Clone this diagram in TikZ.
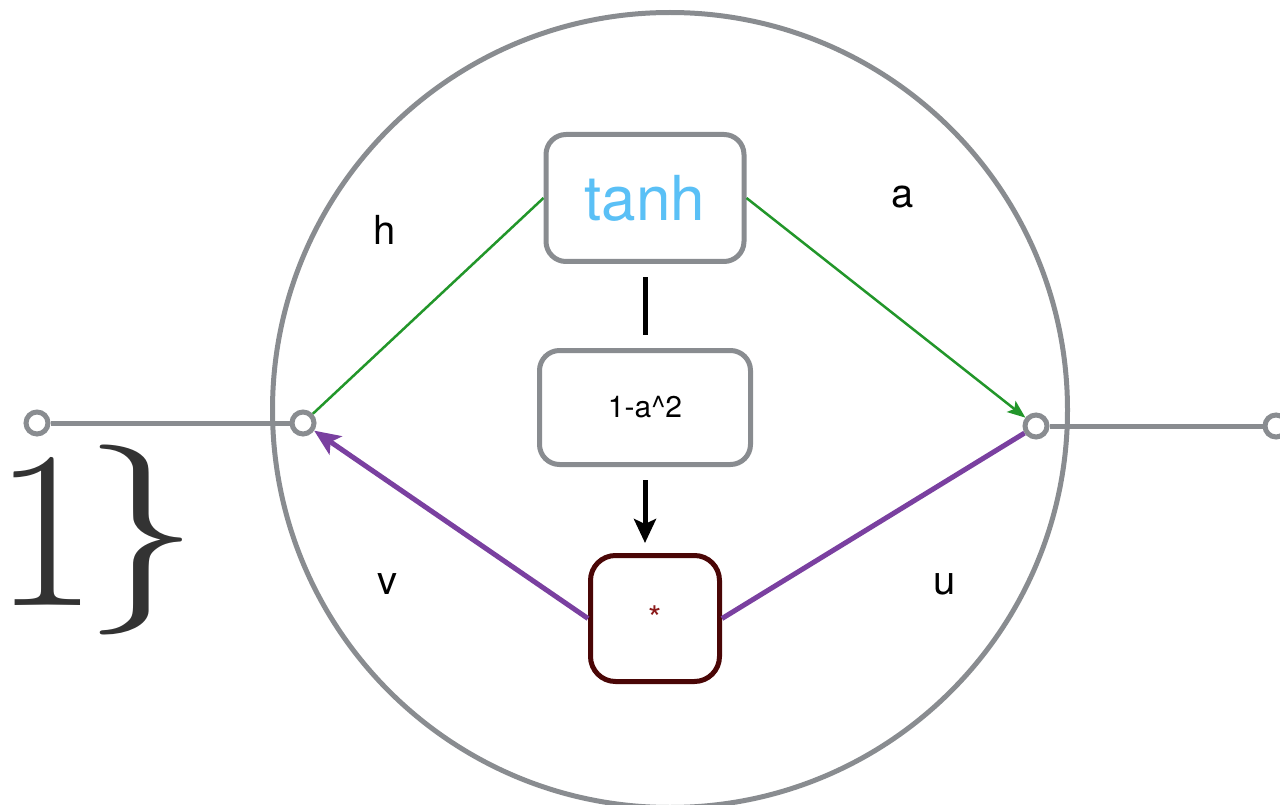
\documentclass[tikz,border=0pt]{standalone}
\usepackage{fontspec}
\newfontfamily\hel{TeX Gyre Heros}
\usetikzlibrary{arrows.meta}
\definecolor{cgray}{HTML}{898C90}
\definecolor{cgreen}{HTML}{22962A}
\definecolor{cpurple}{HTML}{7A40A0}
\definecolor{cmaroon}{HTML}{4A0606}
\definecolor{cstar}{HTML}{8B1A1A}
\definecolor{cblue}{HTML}{5AC0F6}
\definecolor{cdark}{HTML}{333333}
\tikzset{
  term/.style={circle,draw=cgray,line width=5pt,fill=white,minimum size=22pt,inner sep=0pt},
  wire/.style={draw=cgray,line width=5pt},
  opbox/.style={draw=cgray,line width=5pt,rounded corners=20pt,fill=white,inner sep=0pt},
  lbl/.style={font=\hel\fontsize{40}{40}\selectfont,text=black},
  gline/.style={draw=cgreen,line width=2.5pt},
  pline/.style={draw=cpurple,line width=5pt},
  kline/.style={draw=black,line width=5pt}
}
\begin{document}
\begin{tikzpicture}[x=1pt,y=-1pt]
\useasboundingbox (0,0) rectangle (1280,805);
% big cell circle
\node[circle,draw=cgray,line width=5pt,minimum size=795pt,inner sep=0pt] (cell) at (670,410) {};
% terminals
\node[term] (lt1) at (37,423) {};
\node[term] (lt2) at (303,423) {};
\node[term] (rt1) at (1036,426) {};
\node[term] (rt2) at (1276,426) {};
\draw[wire] (lt1) -- (lt2);
\draw[wire] (rt1) -- (rt2);
% big text
\node[anchor=base west,inner sep=0pt,text=cdark] (brace) at (-6,605) {\fontsize{224}{224}\selectfont 1\kern-14pt{\fontsize{190}{190}\selectfont\raisebox{18pt}{\scalebox{1.22}[1]{\}}}}};
% boxes
\node[opbox,minimum width=198pt,minimum height=127pt,text=cblue,font=\hel\fontsize{62}{62}\selectfont] (tanh) at (645,198) {tanh};
\node[opbox,minimum width=211pt,minimum height=114pt,font=\hel\fontsize{30}{30}\selectfont] (onema) at (645,407.5) {1-a\^{}2};
\node[opbox,draw=cmaroon,rounded corners=25pt,minimum width=129pt,minimum height=126pt,text=cstar,font=\hel\fontsize{34}{34}\selectfont] (star) at (655,618.5) {\raisebox{-8pt}{*}};
% labels
\node[lbl] (lh) at (385,230) {h};
\node[lbl] (la) at (903,197) {a};
\node[lbl] (lv) at (387,584) {v};
\node[lbl] (lu) at (945,584) {u};
% connectors
\draw[kline,shorten <=13pt,shorten >=13pt] (tanh.south) -- (onema.north);
\draw[kline,shorten <=13pt,shorten >=10pt,-{Stealth[length=24pt,width=22pt,inset=5pt]}] (onema.south) -- (onema.south |- star.north);
\draw[gline] (tanh.west) -- (lt2);
\draw[gline,-{Stealth[length=18pt,width=14pt,inset=4pt]}] (tanh.east) -- (rt1);
\draw[pline,-{Stealth[length=26pt,width=22pt,inset=6pt]}] (star.west) -- (lt2);
\draw[pline] (star.east) -- (rt1);
\end{tikzpicture}
\end{document}
